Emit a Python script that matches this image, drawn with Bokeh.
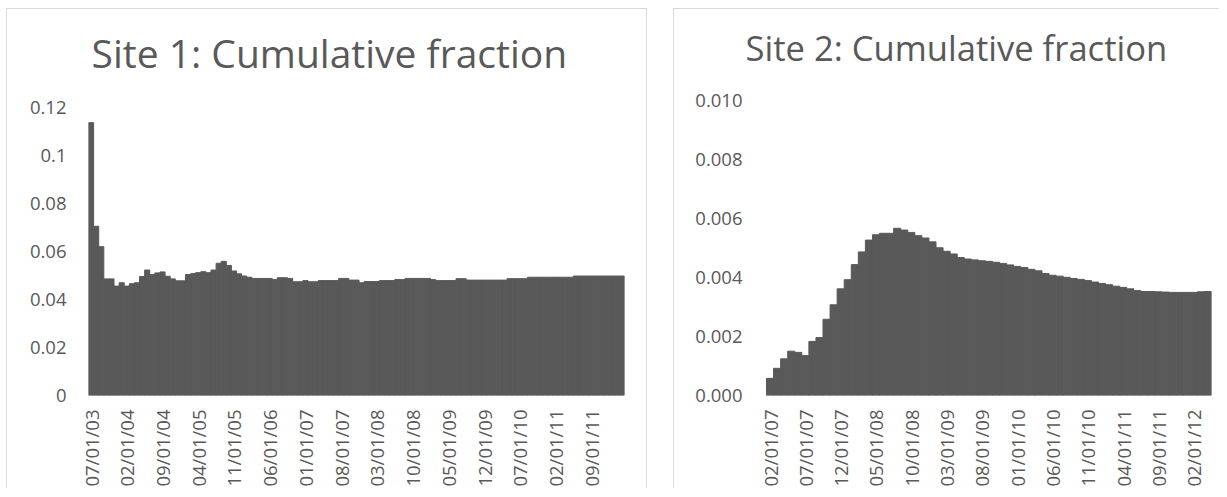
import math
from bokeh.plotting import figure
from bokeh.models import Range1d, FixedTicker, Spacer, Label
from bokeh.layouts import row, column
from bokeh.embed import file_html
from bokeh.resources import INLINE

# ---------------- data ----------------
site1_title = "Site 1: Cumulative fraction"
site1_tick_labels = ["07/01/03", "02/01/04", "09/01/04", "04/01/05", "11/01/05",
                     "06/01/06", "01/01/07", "08/01/07", "03/01/08", "10/01/08",
                     "05/01/09", "12/01/09", "07/01/10", "02/01/11", "09/01/11"]
site1_values = [
    0.1135, 0.0704, 0.0619, 0.0485, 0.0485, 0.0455, 0.0469, 0.0455, 0.0465, 0.0469,
    0.0495, 0.0522, 0.0503, 0.0510, 0.0514, 0.0496, 0.0485, 0.0477, 0.0477, 0.0503,
    0.0507, 0.0511, 0.0515, 0.0511, 0.0522, 0.0550, 0.0558, 0.0541, 0.0518, 0.0506,
    0.0497, 0.0492, 0.0487, 0.0487, 0.0487, 0.0487, 0.0482, 0.0490, 0.0490, 0.0487,
    0.0473, 0.0473, 0.0478, 0.0473, 0.0473, 0.0478, 0.0478, 0.0478, 0.0478, 0.0487,
    0.0487, 0.0480, 0.0480, 0.0469, 0.0474, 0.0474, 0.0474, 0.0478, 0.0478, 0.0478,
    0.0482, 0.0482, 0.0487, 0.0487, 0.0487, 0.0487, 0.0487, 0.0482, 0.0478, 0.0478,
    0.0478, 0.0478, 0.0486, 0.0486, 0.0480, 0.0480, 0.0480, 0.0480, 0.0480, 0.0480,
    0.0480, 0.0480, 0.0486, 0.0486, 0.0486, 0.0486, 0.0492, 0.0492, 0.0492, 0.0492,
    0.0492, 0.0492, 0.0492, 0.0492, 0.0492, 0.0497, 0.0497, 0.0497, 0.0497, 0.0497,
    0.0497, 0.0497, 0.0497, 0.0497, 0.0497,
]
site1_y_ticks = [0, 0.02, 0.04, 0.06, 0.08, 0.1, 0.12]
site1_y_labels = ["0", "0.02", "0.04", "0.06", "0.08", "0.1", "0.12"]

site2_title = "Site 2: Cumulative fraction"
site2_tick_labels = ["02/01/07", "07/01/07", "12/01/07", "05/01/08", "10/01/08",
                     "03/01/09", "08/01/09", "01/01/10", "06/01/10", "11/01/10",
                     "04/01/11", "09/01/11", "02/01/12"]
site2_values = [
    0.00058, 0.00092, 0.00124, 0.00150, 0.00146, 0.00135, 0.00183, 0.00196, 0.00258, 0.00307,
    0.00361, 0.00392, 0.00443, 0.00486, 0.00526, 0.00544, 0.00549, 0.00549, 0.00566, 0.00560,
    0.00552, 0.00541, 0.00533, 0.00520, 0.00500, 0.00488, 0.00479, 0.00467, 0.00462, 0.00459,
    0.00456, 0.00454, 0.00451, 0.00447, 0.00442, 0.00437, 0.00433, 0.00427, 0.00422, 0.00413,
    0.00407, 0.00404, 0.00400, 0.00396, 0.00393, 0.00389, 0.00384, 0.00379, 0.00375, 0.00370,
    0.00366, 0.00361, 0.00355, 0.00352, 0.00352, 0.00351, 0.00350, 0.00349, 0.00349, 0.00349,
    0.00349, 0.00351, 0.00352,
]
site2_y_ticks = [0, 0.002, 0.004, 0.006, 0.008, 0.010]
site2_y_labels = ["0.000", "0.002", "0.004", "0.006", "0.008", "0.010"]

# ---------------- style ----------------
BAR = "#595959"
TEXT = "#595959"
FONT = "Open Sans"
BORDER = "1px solid #d9d9d9"


def make_chart(title, values, tick_labels, tick_step, y_ticks, y_labels,
               width, height, mb_left, mb_right, mb_top, mb_bottom,
               axis_px, bars_px, lead_px, title_dx, title_px, title_size,
               y_standoff, styles):
    """axis_px: pixel height of the tick span (0 .. last tick);
    bars_px: pixel width covered by the bars; lead_px: empty pixels left of the bars;
    title_dx: title start, in pixels from the frame's left edge;
    title_px: title baseline height above the bar baseline, in pixels."""
    n = len(values)
    xs = list(range(n))
    frame_h = height - mb_top - mb_bottom
    y_top = y_ticks[-1] * frame_h / axis_px
    unit_px = bars_px / n
    x_start = -0.5 - lead_px / unit_px
    p = figure(width=width, height=height,
               x_range=Range1d(x_start, n - 0.5),
               y_range=Range1d(0, y_top),
               output_backend="svg", toolbar_location=None,
               min_border_left=mb_left, min_border_right=mb_right,
               min_border_top=mb_top, min_border_bottom=mb_bottom)
    p.vbar(x=xs, top=values, width=1.0, fill_color=BAR,
           line_color=BAR, line_width=1.0)

    p.add_layout(Label(x=x_start + title_dx / unit_px,
                       y=y_ticks[-1] * title_px / axis_px,
                       text=title, text_font=FONT, text_font_size=title_size,
                       text_color=TEXT, text_align="left",
                       text_baseline="alphabetic"))

    p.grid.visible = False
    p.outline_line_color = None
    p.background_fill_color = "white"
    p.border_fill_color = "white"

    xt = list(range(0, n, tick_step))
    p.xaxis.ticker = FixedTicker(ticks=xt)
    p.xaxis.major_label_overrides = {t: lab for t, lab in zip(xt, tick_labels)}
    p.xaxis.major_label_orientation = math.pi / 2
    p.xaxis.major_label_standoff = 14

    p.yaxis.ticker = FixedTicker(ticks=y_ticks)
    p.yaxis.major_label_overrides = {t: lab for t, lab in zip(y_ticks, y_labels)}
    p.yaxis.major_label_standoff = y_standoff

    for ax in (p.xaxis, p.yaxis):
        ax.axis_line_color = None
        ax.major_tick_line_color = None
        ax.minor_tick_line_color = None
        ax.major_tick_out = 0
        ax.major_tick_in = 0
        ax.major_label_text_font = FONT
        ax.major_label_text_font_size = "18.5px"
        ax.major_label_text_color = TEXT
    p.styles = styles
    return p


p1 = make_chart(site1_title, site1_values, site1_tick_labels, 7,
                site1_y_ticks, site1_y_labels,
                width=641, height=480, mb_left=81, mb_right=24, mb_top=5, mb_bottom=92,
                axis_px=290, bars_px=536, lead_px=0, title_dx=3, title_px=345,
                title_size="39px", y_standoff=22,
                styles={"border-top": BORDER, "border-left": BORDER, "border-right": BORDER})

p2 = make_chart(site2_title, site2_values, site2_tick_labels, 5,
                site2_y_ticks, site2_y_labels,
                width=546, height=480, mb_left=71, mb_right=9, mb_top=5, mb_bottom=92,
                axis_px=297, bars_px=445, lead_px=21, title_dx=0, title_px=350,
                title_size="34.6px", y_standoff=3,
                styles={"border-top": BORDER, "border-left": BORDER})

layout = row(Spacer(width=6, height=10),
             column(Spacer(width=10, height=8), p1),
             Spacer(width=26, height=10),
             column(Spacer(width=10, height=8), p2))
open("out.html", "w").write(file_html(layout, INLINE))
